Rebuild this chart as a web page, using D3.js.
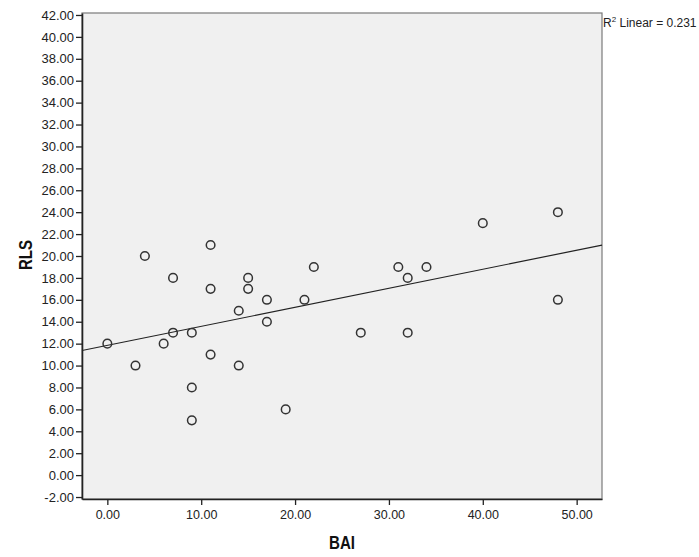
<!DOCTYPE html>
<html><head><meta charset="utf-8">
<script src="https://cdn.jsdelivr.net/npm/d3@7"></script>
<style>body{margin:0;background:#fff;} svg{display:block;}</style>
</head><body>
<svg id="c" width="699" height="557"></svg>
<script>
const bai = [0,3,4,6,7,7,9,9,9,11,11,11,14,14,15,15,17,17,19,21,22,27,31,32,32,34,40,48,48];
const rls = [12,10,20,12,18,13,13,8,5,21,17,11,15,10,18,17,16,14,6,16,19,13,19,18,13,19,23,24,16];
const xTicks = [0,10,20,30,40,50];
const yTicks = d3.range(-2, 43, 2);
const r2Label = "0.231";

const svg = d3.select("#c");
const L = 82, R = 602, T = 13, B = 499;
const x = d3.scaleLinear().domain([-2.7, 52.7]).range([L, R]);
const y = d3.scaleLinear().domain([-2.18, 42.18]).range([B, T]);
const font = "'Liberation Sans', Arial, sans-serif";
const fmt = d => d3.format(".2f")(d).replace("\u2212", "-");

svg.append("rect").attr("x", L).attr("y", T).attr("width", R - L).attr("height", B - T)
  .attr("fill", "#f0f0f0").attr("stroke", "#7a7a7a").attr("stroke-width", 1.2);

// regression
const n = bai.length;
const mx = d3.mean(bai), my = d3.mean(rls);
let sxy = 0, sxx = 0;
for (let i = 0; i < n; i++) { sxy += (bai[i]-mx)*(rls[i]-my); sxx += (bai[i]-mx)**2; }
const slope = sxy / sxx, icpt = my - slope * mx;
const xd = x.domain();
svg.append("line")
  .attr("x1", x(xd[0])).attr("y1", y(icpt + slope*xd[0]))
  .attr("x2", x(xd[1])).attr("y2", y(icpt + slope*xd[1]))
  .attr("stroke", "#222").attr("stroke-width", 1.2);

svg.append("g").selectAll("circle").data(bai.map((d,i)=>[d, rls[i]])).join("circle")
  .attr("cx", d => x(d[0])).attr("cy", d => y(d[1])).attr("r", 4.3)
  .attr("fill", "none").attr("stroke", "#333").attr("stroke-width", 1.5);

// axes
const ya = svg.append("g").attr("transform", `translate(${L},0)`)
  .call(d3.axisLeft(y).tickValues(yTicks).tickFormat(fmt).tickSize(6).tickSizeOuter(0));
const xa = svg.append("g").attr("transform", `translate(0,${B})`)
  .call(d3.axisBottom(x).tickValues(xTicks).tickFormat(fmt).tickSize(6).tickSizeOuter(0));
[ya, xa].forEach(g => {
  g.select(".domain").attr("stroke", "#222").attr("stroke-width", 1.6);
  g.selectAll(".tick line").attr("stroke", "#222").attr("stroke-width", 1.3);
  g.selectAll("text").attr("font-family", font).attr("font-size", 12.5).attr("fill", "#222");
});
ya.selectAll("text").attr("x", -8).attr("font-size", 13);
xa.selectAll("text").attr("y", 11);

svg.append("text").attr("x", 342).attr("y", 549).attr("text-anchor", "middle")
  .attr("font-family", font).attr("font-weight", "bold").attr("font-size", 18)
  .attr("textLength", 26).attr("lengthAdjust", "spacingAndGlyphs")
  .attr("fill", "#111").text("BAI");
svg.append("text").attr("transform", "translate(31.5,255) rotate(-90)").attr("text-anchor", "middle")
  .attr("font-family", font).attr("font-weight", "bold").attr("font-size", 18)
  .attr("textLength", 30).attr("lengthAdjust", "spacingAndGlyphs")
  .attr("fill", "#111").text("RLS");

const t = svg.append("text").attr("x", 603).attr("y", 27)
  .attr("font-family", font).attr("font-size", 12).attr("fill", "#222");
t.append("tspan").text("R");
t.append("tspan").attr("dy", -5).attr("font-size", 8).text("2");
t.append("tspan").attr("dy", 5).text(" Linear = " + r2Label);
</script>
</body></html>
